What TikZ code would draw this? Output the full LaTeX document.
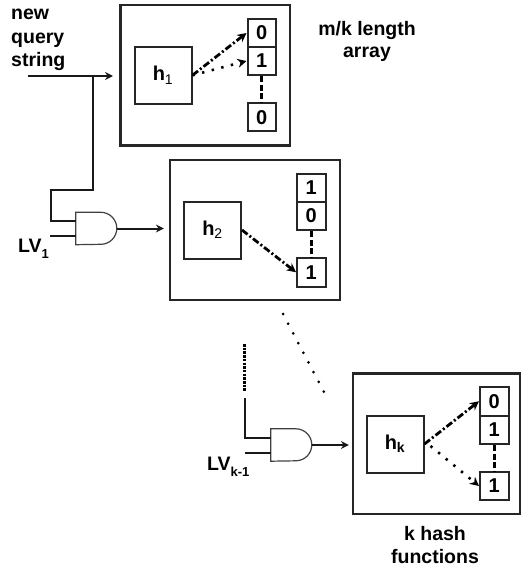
\documentclass[tikz,border=0pt]{standalone}
\usepackage{fontspec}
\setmainfont{Liberation Sans}
\usetikzlibrary{arrows.meta}
\tikzset{
  outerbox/.style={draw=black!85,line width=2.2pt,inner sep=0pt,minimum width=#1},
  hashbox/.style={draw=black!85,line width=2pt,inner sep=0pt,minimum width=57pt,minimum height=57pt,font=\bfseries\fontsize{20}{20}\selectfont},
  cell/.style={draw=black!85,line width=2pt,inner sep=0pt,minimum width=28.5pt,minimum height=28.5pt,font=\bfseries\fontsize{20}{20}\selectfont},
  label/.style={font=\bfseries\fontsize{19.5}{23.3}\selectfont,align=left,inner sep=0pt},
  clabel/.style={font=\bfseries\fontsize{19.5}{22.5}\selectfont,align=center,inner sep=0pt},
  wire/.style={line width=2pt,black!90},
  flow/.style={wire,-{Stealth[length=8pt,width=8pt]}},
  dashdot/.style={line width=2.8pt,dash pattern=on 7pt off 2.5pt on 2pt off 2.5pt,-{Stealth[length=9pt,width=9pt]}},
  dotflow/.style={line width=2.6pt,dash pattern=on 2.4pt off 7.5pt,-{Stealth[length=9pt,width=9pt]}},
  linkdash/.style={line width=2.8pt,dash pattern=on 6pt off 2.5pt},
  gatebody/.style={draw=black!75,line width=1.2pt},
  gatenode/.style={inner sep=0pt,minimum width=41pt,minimum height=32pt},
}
\newcommand{\andgate}[1]{%
  \draw[gatebody] (#1.north west) -- ++(25,0) arc[start angle=90,end angle=-90,radius=16pt] -- (#1.south west) -- cycle;}
\newcommand{\lowsub}[1]{\raisebox{-6pt}{\fontsize{13}{13}\selectfont #1}}
\begin{document}
\begin{tikzpicture}[x=1pt,y=-1pt]
\useasboundingbox (0,0) rectangle (521,572);
% box 1
\node[outerbox=169.5pt,minimum height=140.5pt] (b1) at (205.25,75.25) {};
\node[hashbox] (h1) at (163,75.25) {h\textsubscript{\normalfont 1}};
\node[cell] (c11) at (261.75,33) {0};
\node[cell] (c12) at (261.75,61) {1};
\node[cell] (c13) at (261.75,117.25) {0};
\draw[linkdash] (c12.south) -- (c13.north);
\draw[dashdot] (h1.east) -- (c11.west);
\draw[dotflow] (h1.east) -- (c12.west);
% box 2
\node[outerbox=170pt,minimum height=140pt] (b2) at (255,230) {};
\node[hashbox] (h2) at (212.5,230) {h\textsubscript{\normalfont 2}};
\node[cell] (c21) at (311.25,187.75) {1};
\node[cell] (c22) at (311.25,216) {0};
\node[cell] (c23) at (311.25,272.25) {1};
\draw[linkdash] (c22.south) -- (c23.north);
\draw[dashdot] (h2.east) -- (c23.west);
% box k
\node[outerbox=167pt,minimum height=140.5pt] (b3) at (436.5,443.75) {};
\node[hashbox] (h3) at (395,444) {h\textsubscript{k}};
\node[cell] (c31) at (494.25,401.25) {0};
\node[cell] (c32) at (494.25,429.75) {1};
\node[cell] (c33) at (494.25,486) {1};
\draw[linkdash] (c32.south) -- (c33.north);
\draw[dashdot] (h3.east) -- (c31.west);
\draw[dotflow] (h3.east) ++(6,2) coordinate (h3s) (h3s) -- (c33.west);
% gates
\node[gatenode] (g1) at (96.5,228.5) {};
\node[gatenode] (g2) at (291.5,445) {};
\andgate{g1}
\andgate{g2}
% labels
\node[label,anchor=base west] (q) at (11,66.5) {new\\query\\string};
\node[clabel] (m) at (367,41.5) {m/k length\\array};
\node[clabel] (kh) at (435,545) {k hash\\functions};
\node[label,anchor=base west] (lv1) at (18,252.5) {LV\lowsub{1}};
\node[label,anchor=base west] (lv2) at (207,470.5) {LV\lowsub{k-1}};
% wires
\coordinate (qs) at (28,76);
\coordinate (qe) at (113,76);
\coordinate (j) at (92.5,76);
\coordinate (a1) at (51,190);
\coordinate (i1) at (76,221);
\coordinate (i1b) at (76,236);
\coordinate (lvs) at (50,236);
\draw[flow] (qs) -- (qe);
\draw[wire] (j) -- (92.5,190) -- (a1) -- (51,221) -- (i1);
\draw[wire] (lvs) -- (i1b);
\draw[flow] (g1.east) -- ([xshift=-5pt]b2.west |- g1.east);
\coordinate (t2) at (244.5,398);
\coordinate (i2) at (271,438);
\coordinate (i2b) at (271,453);
\coordinate (lvs2) at (245,453);
\draw[wire] (t2) -- (244.5,438) -- (i2);
\draw[wire] (lvs2) -- (i2b);
\coordinate (d1) at (244.5,344);
\coordinate (d2) at (244.5,391);
\draw[line width=3pt,dash pattern=on 2.5pt off 1.2pt] (d1) -- (d2);
\draw[flow] (g2.east) -- ([xshift=-3pt]b3.west |- g2.east);
\coordinate (e1) at (283,314);
\coordinate (e2) at (324,392);
\draw[line width=3pt,line cap=round,dash pattern=on 0pt off 10.95pt] (e1) -- (e2);
\end{tikzpicture}
\end{document}
